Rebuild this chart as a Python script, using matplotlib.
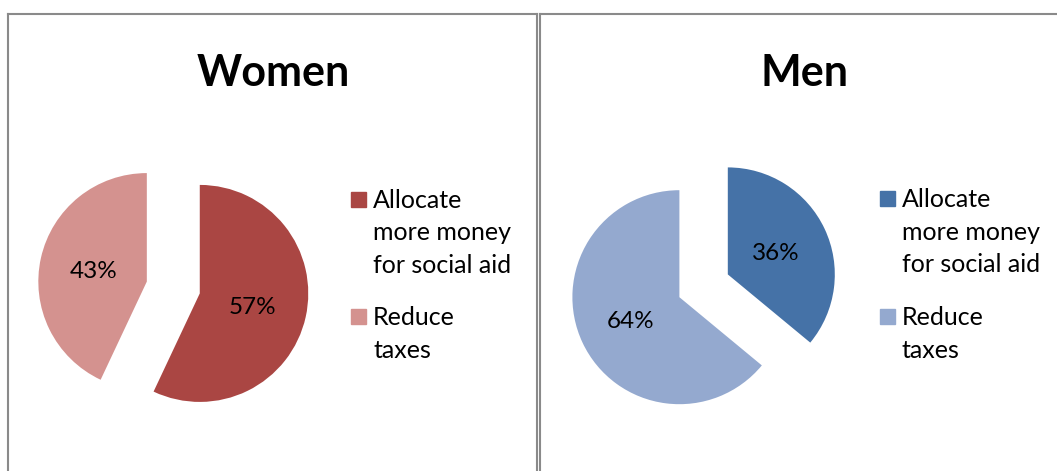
#!/usr/bin/env python
import matplotlib
matplotlib.use('Agg')
from matplotlib import pyplot as plt
from matplotlib.patches import Rectangle
from matplotlib.lines import Line2D

# data
CATEGORIES = ['Allocate\nmore money\nfor social aid', 'Reduce\ntaxes']
WOMEN_VALUES = [57, 43]
MEN_VALUES = [36, 64]
WOMEN_COLORS = ['#AA4643', '#D4928F']
MEN_COLORS = ['#4572A7', '#94A9CF']
TITLES = ['Women', 'Men']

W, H = 1057, 471
FONT = 'Lato'
BORDER = '#8a8a8a'


def fx(px):
    return px / W


def fy(py):
    return 1 - py / H


def add_pie(fig, cx, cy, radius, values, colors):
    size = 320
    ax = fig.add_axes([fx(cx - size / 2), fy(cy + size / 2), size / W, size / H])
    lim = size / 2 / radius
    _, _, autotexts = ax.pie(values, colors=colors, startangle=90, counterclock=False,
                             explode=[0.25] * len(values), radius=1,
                             autopct='%1.0f%%', pctdistance=0.5,
                             textprops={'fontsize': 17.5, 'family': FONT, 'color': 'black'},
                             wedgeprops={'linewidth': 0})
    for t in autotexts:
        t.set_va('center_baseline')
    ax.set_xlim(-lim, lim)
    ax.set_ylim(-lim, lim)
    ax.set_aspect('auto')
    ax.axis('off')


def add_legend(fig, x, y_tops, colors):
    for label, color, top in zip(CATEGORIES, colors, y_tops):
        fig.add_artist(Rectangle((fx(x), fy(top + 15)), 15 / W, 15 / H,
                                 transform=fig.transFigure, color=color))
        fig.text(fx(x + 22), fy(top - 3), label, fontsize=18, family=FONT,
                 va='top', ha='left', linespacing=1.5)


def draw_borders(fig):
    kw = dict(color=BORDER, linewidth=1.5, transform=fig.transFigure)
    fig.add_artist(Line2D([fx(8), fx(8)], [fy(13.5), 0], **kw))
    fig.add_artist(Line2D([fx(8), fx(537)], [fy(13.5), fy(13.5)], **kw))
    fig.add_artist(Line2D([fx(537), fx(537)], [fy(13.5), 0], **kw))
    fig.add_artist(Line2D([fx(540), fx(540)], [fy(13.5), 0], **kw))
    fig.add_artist(Line2D([fx(540), 1], [fy(13.5), fy(13.5)], **kw))


def main():
    fig = plt.figure(figsize=(W / 100, H / 100), dpi=100)
    draw_borders(fig)

    fig.text(fx(273), fy(85.5), TITLES[0], fontsize=31, fontweight='bold',
             family=FONT, ha='center', va='baseline')
    fig.text(fx(805), fy(85.5), TITLES[1], fontsize=31, fontweight='bold',
             family=FONT, ha='center', va='baseline')

    add_pie(fig, 173.3, 287.5, 108.5, WOMEN_VALUES, WOMEN_COLORS)
    add_pie(fig, 703.6, 285.8, 107, MEN_VALUES, MEN_COLORS)

    add_legend(fig, 351, [192, 309], WOMEN_COLORS)
    add_legend(fig, 880, [191, 309], MEN_COLORS)

    fig.savefig('out.png', dpi=100)


if __name__ == '__main__':
    main()
